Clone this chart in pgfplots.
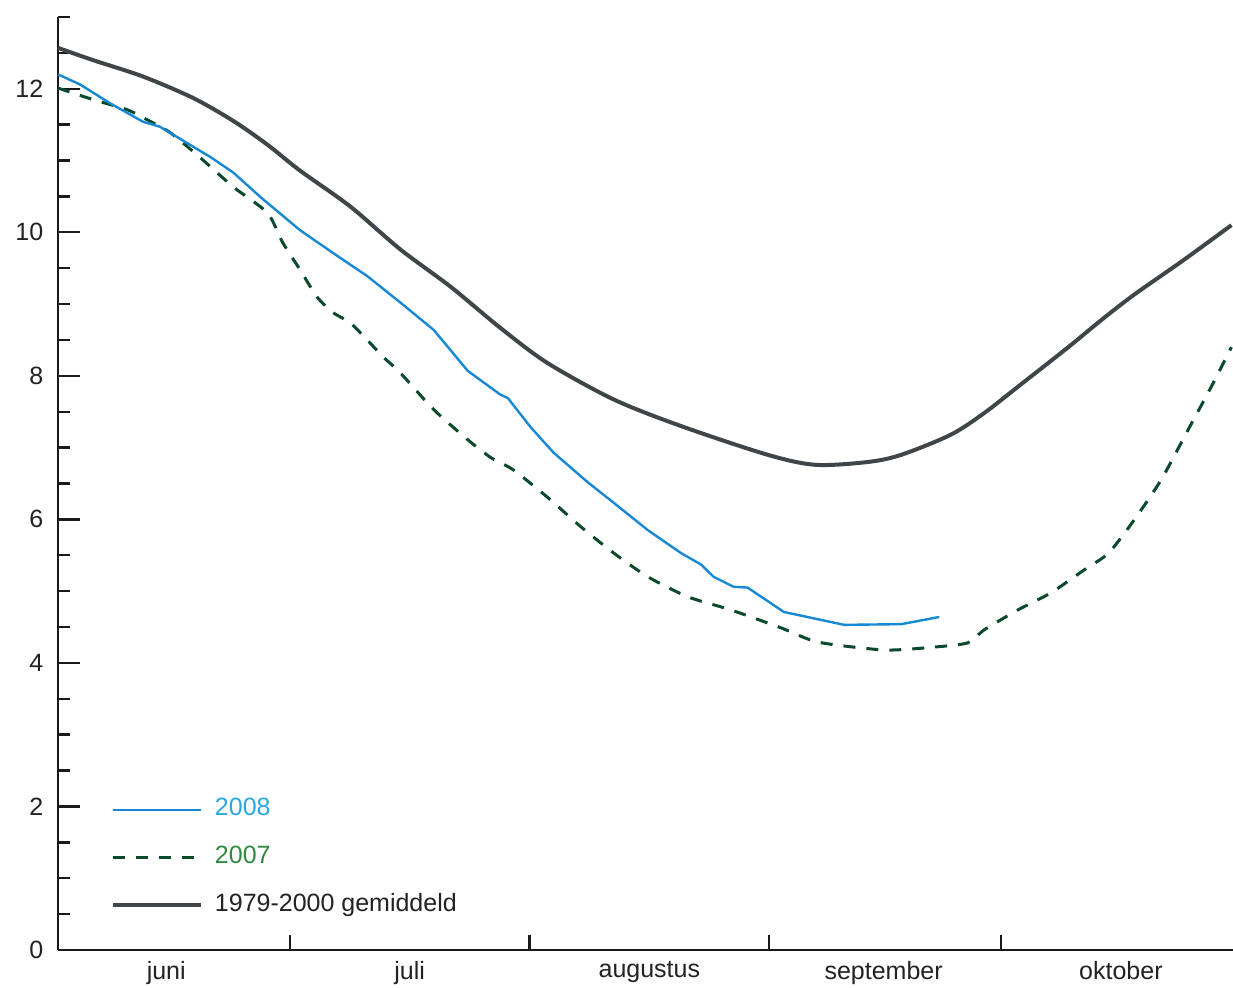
\documentclass[border=0pt]{standalone}
\usepackage{pgfplots}
\pgfplotsset{compat=1.18}
\usepackage{fontspec}
\setmainfont{Liberation Sans}
\definecolor{cgray}{RGB}{63,70,73}
\definecolor{cblue}{RGB}{23,137,212}
\definecolor{cgreen}{RGB}{11,74,43}
\definecolor{lblue}{RGB}{42,166,224}
\definecolor{lgreen}{RGB}{47,138,63}
\definecolor{caxis}{RGB}{26,26,26}
\definecolor{ctext}{RGB}{34,34,34}

\pgfplotstableread{
day val
0 12.57
4.5 12.40
11.0 12.17
17.5 11.87
22.7 11.55
27.1 11.22
31.3 10.86
37.8 10.36
44.3 9.76
50.8 9.24
57.2 8.67
63.3 8.18
71.9 7.67
80.6 7.30
91.8 6.90
98.0 6.76
104.8 6.80
109.1 6.90
115.5 7.18
119.8 7.48
124.2 7.85
130.7 8.40
135.0 8.78
139.2 9.13
145.7 9.62
151.8 10.10
}\avgdata

\pgfplotstableread{
day val
0 12.20
2.85 12.06
6.7 11.80
11.0 11.54
13.2 11.47
19.7 11.05
22.7 10.83
26.2 10.49
31.3 10.03
35.6 9.71
40.0 9.39
44.3 9.02
48.6 8.64
53.0 8.07
57.2 7.74
58.2 7.69
61.1 7.29
64.1 6.93
68.5 6.52
71.9 6.23
76.3 5.85
80.6 5.53
83.2 5.37
84.8 5.20
87.4 5.06
89.2 5.05
93.9 4.71
101.7 4.53
109.1 4.54
114.0 4.64
}\yeareight

\pgfplotstableread{
day val
0 12.01
4.5 11.85
8.9 11.71
11.5 11.57
14.5 11.39
18.4 11.04
22.7 10.63
27.1 10.27
29.1 9.85
31.3 9.48
33.5 9.10
35.6 8.88
37.8 8.74
40.0 8.50
42.1 8.26
44.3 8.04
48.6 7.53
53.0 7.11
56.0 6.86
58.9 6.69
63.3 6.31
67.6 5.90
71.9 5.53
76.3 5.20
81.5 4.92
87.0 4.74
93.5 4.49
98.3 4.29
106.9 4.18
113.3 4.22
117.7 4.28
119.8 4.46
124.2 4.74
128.5 4.98
132.8 5.30
135.9 5.53
139.2 5.99
142.7 6.55
146.2 7.25
149.2 7.85
151.8 8.40
}\yearseven

\begin{document}
\fontsize{12.5}{15}\selectfont
\begin{tikzpicture}
\begin{axis}[name=ax,
  scale only axis, width=587.5pt, height=466.5pt,
  xmin=0, xmax=152, ymin=0, ymax=13,
  axis lines*=left,
  axis line style={-, line width=1.2pt, draw=caxis},
  tick align=inside,
  major tick length=11pt, minor tick length=6pt,
  every tick/.style={line width=1.2pt, draw=caxis},
  ytick={0,2,...,12},
  minor ytick={0.5,1,...,13},
  xtick={14,45.5,76.5,106.8,137.5},
  xticklabels={juni,juli,augustus,september,oktober},
  xtick style={draw=none},
  extra x ticks={30,61,92,122},
  extra x tick labels={},
  extra x tick style={major tick length=7.5pt, xtick style={draw=caxis, line width=1.2pt}},
  /pgf/number format/assume math mode=true,
  tick label style={font=\fontsize{12.5}{15}\selectfont, text=ctext},
  yticklabel style={xshift=-3pt},
  xticklabel style={yshift=-1.5pt},
  clip=false,
  legend style={draw=none, fill=none, at={(axis cs:6.8,2.125)}, anchor=north west,
    row sep=11.8pt, inner sep=0pt,
    /tikz/every odd column/.append style={column sep=6pt},
    nodes={inner sep=0pt, text height=9pt, text depth=3pt, font=\fontsize{12.5}{15}\selectfont}},
  legend cell align=left,
  legend image code/.code={\draw[#1] (0pt,0pt) -- (44pt,0pt);},
]
\addlegendimage{cblue, line width=1.2pt}
\addlegendentry{\textcolor{lblue}{2008}}
\addlegendimage{cgreen, line width=1.5pt, dash pattern=on 6pt off 5.5pt}
\addlegendentry{\textcolor{lgreen}{2007}}
\addlegendimage{cgray, line width=2pt}
\addlegendentry{\textcolor{ctext}{1979-2000 gemiddeld}}
\addplot[cgray, line width=2pt, smooth, tension=0.5, forget plot] table[x=day,y=val] {\avgdata};
\addplot[cgreen, line width=1.5pt, dash pattern=on 6pt off 5.5pt, smooth, tension=0.4, forget plot] table[x=day,y=val] {\yearseven};
\addplot[cblue, line width=1.2pt, forget plot] table[x=day,y=val] {\yeareight};
\end{axis}
\pgfresetboundingbox
\useasboundingbox ([shift={(-29pt,-19pt)}]ax.south west) rectangle ([shift={(0pt,8.5pt)}]ax.north east);
\end{tikzpicture}
\end{document}
